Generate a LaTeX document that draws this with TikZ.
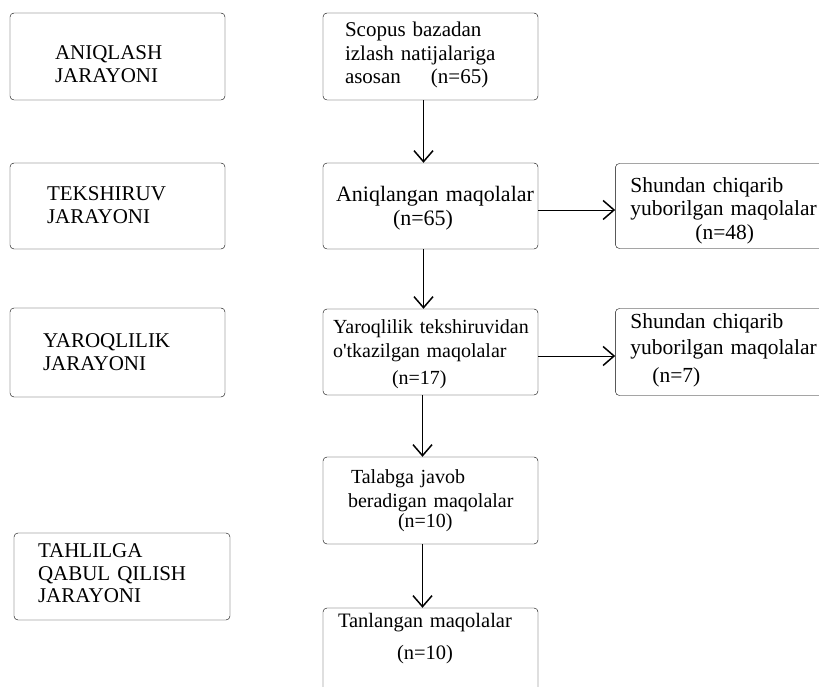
\documentclass[tikz,border=0pt]{standalone}
\usepackage{fontspec}
\setmainfont{Liberation Serif}
\usepackage{tikz}
\usetikzlibrary{positioning, arrows.meta}
\hyphenpenalty=10000
\tikzset{line width=1.6pt, >={Straight Barb[length=11pt, width=19pt, line width=1.5pt]}, node distance=77pt,
  fs/.style 2 args={font=\fontsize{#1}{#2}\selectfont},
  tb/.style 2 args={text height=#1, text depth=#2},
  stage/.style={draw, rounded corners=4pt, inner ysep=0pt, align=left, fs={20pt}{24pt}}}

\begin{document}
\begin{tikzpicture}[x=1pt, y=1pt]
	\path[use as bounding box, clip] (0,0) rectangle (819,687);
	% left column: stages
	\node[stage, fs={21pt}{22.5pt}, tb={47pt}{40pt}, inner xsep=45pt, text width=125pt] at (117.5,630.5) (Aniqlash) {ANIQLASH\\JARAYONI};
	\node[stage, fs={21pt}{22.5pt}, tb={38pt}{48pt}, inner xsep=37pt, text width=141pt] at (117.5,481) (Tekshiruv) {TEKSHIRUV\\JARAYONI};
	\node[stage, fs={21pt}{22.5pt}, tb={40pt}{49pt}, inner xsep=33pt, text width=149pt] at (117.5,334.5) (Yaroqlilik) {YAROQLILIK\\JARAYONI};
	\node[stage, fs={21pt}{22.5pt}, tb={25pt}{62pt}, inner xsep=24pt, text width=168pt] at (122,110.5) (Tahlil) {TAHLILGA\\QABUL QILISH\\JARAYONI};
	% middle column: articles
	\node[stage, fs={21pt}{23.5pt}, tb={24pt}{63pt}, inner xsep=22pt, text width=171pt] at (430.5,630.5) (Scopus) {Scopus bazadan\\izlash natijalariga\\asosan\hspace{23pt} (n=65)};
	\node[stage, fs={22pt}{23.5pt}, tb={39pt}{47pt}, inner xsep=13pt, text width=189pt] at (430.5,481) (Aniq) {\mbox{Aniqlangan maqolalar}\\\hspace*{57pt}(n=65)};
	\node[stage, tb={25pt}{61pt}, inner xsep=10pt, text width=195pt] at (430.5,335) (Yaroq) {\mbox{Yaroqlilik tekshiruvidan}\\o\textquotesingle tkazilgan maqolalar\\[3pt]\hspace*{59pt}(n=17)};
	\node[stage, tb={27pt}{60pt}, inner xsep=25pt, text width=165pt] at (430.5,186.5) (Talab) {\hspace*{3pt}Talabga javob\\\mbox{beradigan maqolalar}\\[-4pt]\hspace*{50pt}(n=10)};
	\node[stage, fs={20.5pt}{32pt}, tb={20pt}{77pt}, inner xsep=15pt, text width=185pt] at (430.5,30.5) (Tanlangan) {Tanlangan maqolalar\\\hspace*{59pt}(n=10)};
	% right column: excluded
	\node[stage, fs={21.5pt}{23.5pt}, tb={29pt}{56pt}, inner xsep=15pt, text width=200pt, right=of Aniq] (Chiqarib1) {Shundan chiqarib\\yuborilgan maqolalar\\\hspace*{65pt}(n=48)};
	\node[stage, fs={21.5pt}{26pt}, tb={20pt}{67pt}, inner xsep=15pt, text width=200pt, right=of Yaroq] (Chiqarib2) {Shundan chiqarib\\yuborilgan maqolalar\\[2pt]\hspace*{22pt}(n=7)};
	\draw[->] ([xshift=-7pt]Scopus.south) -- ([xshift=-7pt]Aniq.north);
	\draw[->] ([xshift=-7pt]Aniq.south) -- ([xshift=-7pt]Yaroq.north);
	\draw[->] ([xshift=-8pt]Yaroq.south) -- ([xshift=-8pt]Talab.north);
	\draw[->] ([xshift=-8pt]Talab.south) -- ([xshift=-8pt]Tanlangan.north);
	\draw[->] ([yshift=-4pt]Aniq.east) -- ([yshift=-4pt]Aniq.east -| Chiqarib1.west);
	\draw[->] ([yshift=-4pt]Yaroq.east) -- ([yshift=-4pt]Yaroq.east -| Chiqarib2.west);
\end{tikzpicture}
\end{document}
